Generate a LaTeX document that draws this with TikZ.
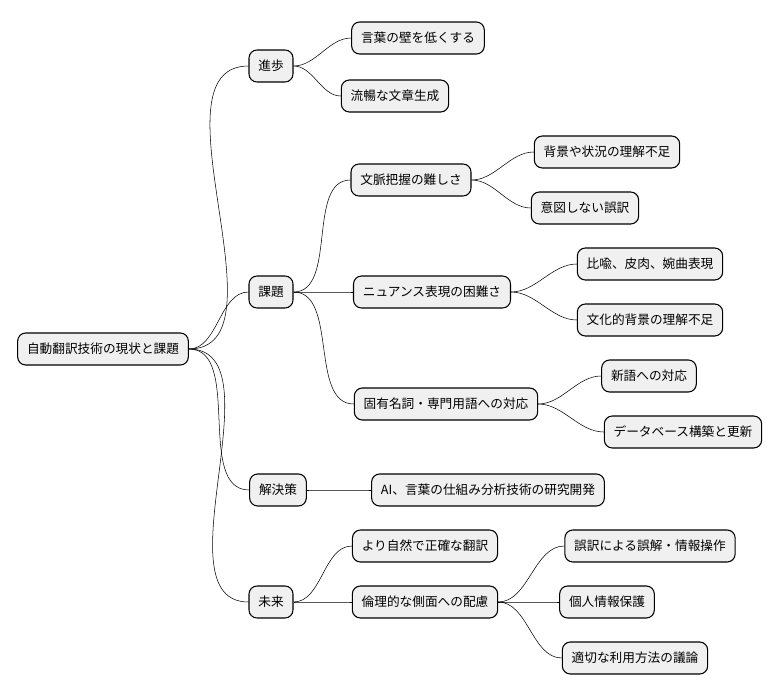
\documentclass[tikz,border=0pt]{standalone}
\usepackage{fontspec}
\setmainfont{Noto Sans CJK JP}
\tikzset{
	topic/.style={draw=black, fill=gray!12, rounded corners=6pt, minimum height=24pt, inner xsep=7pt, font=\fontsize{9.5pt}{11pt}\selectfont, thick},
	branch/.style={draw=black, out=0, in=180, looseness=0.9}
}
\begin{document}
\begin{tikzpicture}[x=0.75pt, y=-0.75pt]
	\useasboundingbox (0,0) rectangle (782,696);
	% root and main branches
	\node[topic] (root) at (103,349) {自動翻訳技術の現状と課題};
	\node[topic] (prog) at (271,66) {進歩};
	\node[topic] (issue) at (271,292) {課題};
	\node[topic] (sol) at (278,490) {解決策};
	\node[topic] (fut) at (271,602) {未来};
	% progress
	\node[topic] (wall) at (418,38) {言葉の壁を低くする};
	\node[topic] (fluent) at (395,96) {流暢な文章生成};
	% issues
	\node[topic] (ctx) at (411,180) {文脈把握の難しさ};
	\node[topic] (bg) at (607,152) {背景や状況の理解不足};
	\node[topic] (mis) at (585,208) {意図しない誤訳};
	\node[topic] (nua) at (432,292) {ニュアンス表現の困難さ};
	\node[topic] (meta) at (650,264) {比喩、皮肉、婉曲表現};
	\node[topic] (cult) at (650,320) {文化的背景の理解不足};
	\node[topic] (prop) at (446,404) {固有名詞・専門用語への対応};
	\node[topic] (neo) at (649,376) {新語への対応};
	\node[topic] (db) at (683,432) {データベース構築と更新};
	% solution
	\node[topic] (ai) at (488,490) {AI、言葉の仕組み分析技術の研究開発};
	% future
	\node[topic] (nat) at (425,546) {より自然で正確な翻訳};
	\node[topic] (eth) at (425,602) {倫理的な側面への配慮};
	\node[topic] (manip) at (650,546) {誤訳による誤解・情報操作};
	\node[topic] (priv) at (607,602) {個人情報保護};
	\node[topic] (use) at (635,658) {適切な利用方法の議論};
	% connectors
	\foreach \a/\b in {root/prog, root/issue, root/sol, root/fut,
		prog/wall, prog/fluent, issue/ctx, issue/nua, issue/prop,
		ctx/bg, ctx/mis, nua/meta, nua/cult, prop/neo, prop/db,
		sol/ai, fut/nat, fut/eth, eth/manip, eth/priv, eth/use}
		\draw (\a.east) to[branch] (\b.west);
\end{tikzpicture}
\end{document}
